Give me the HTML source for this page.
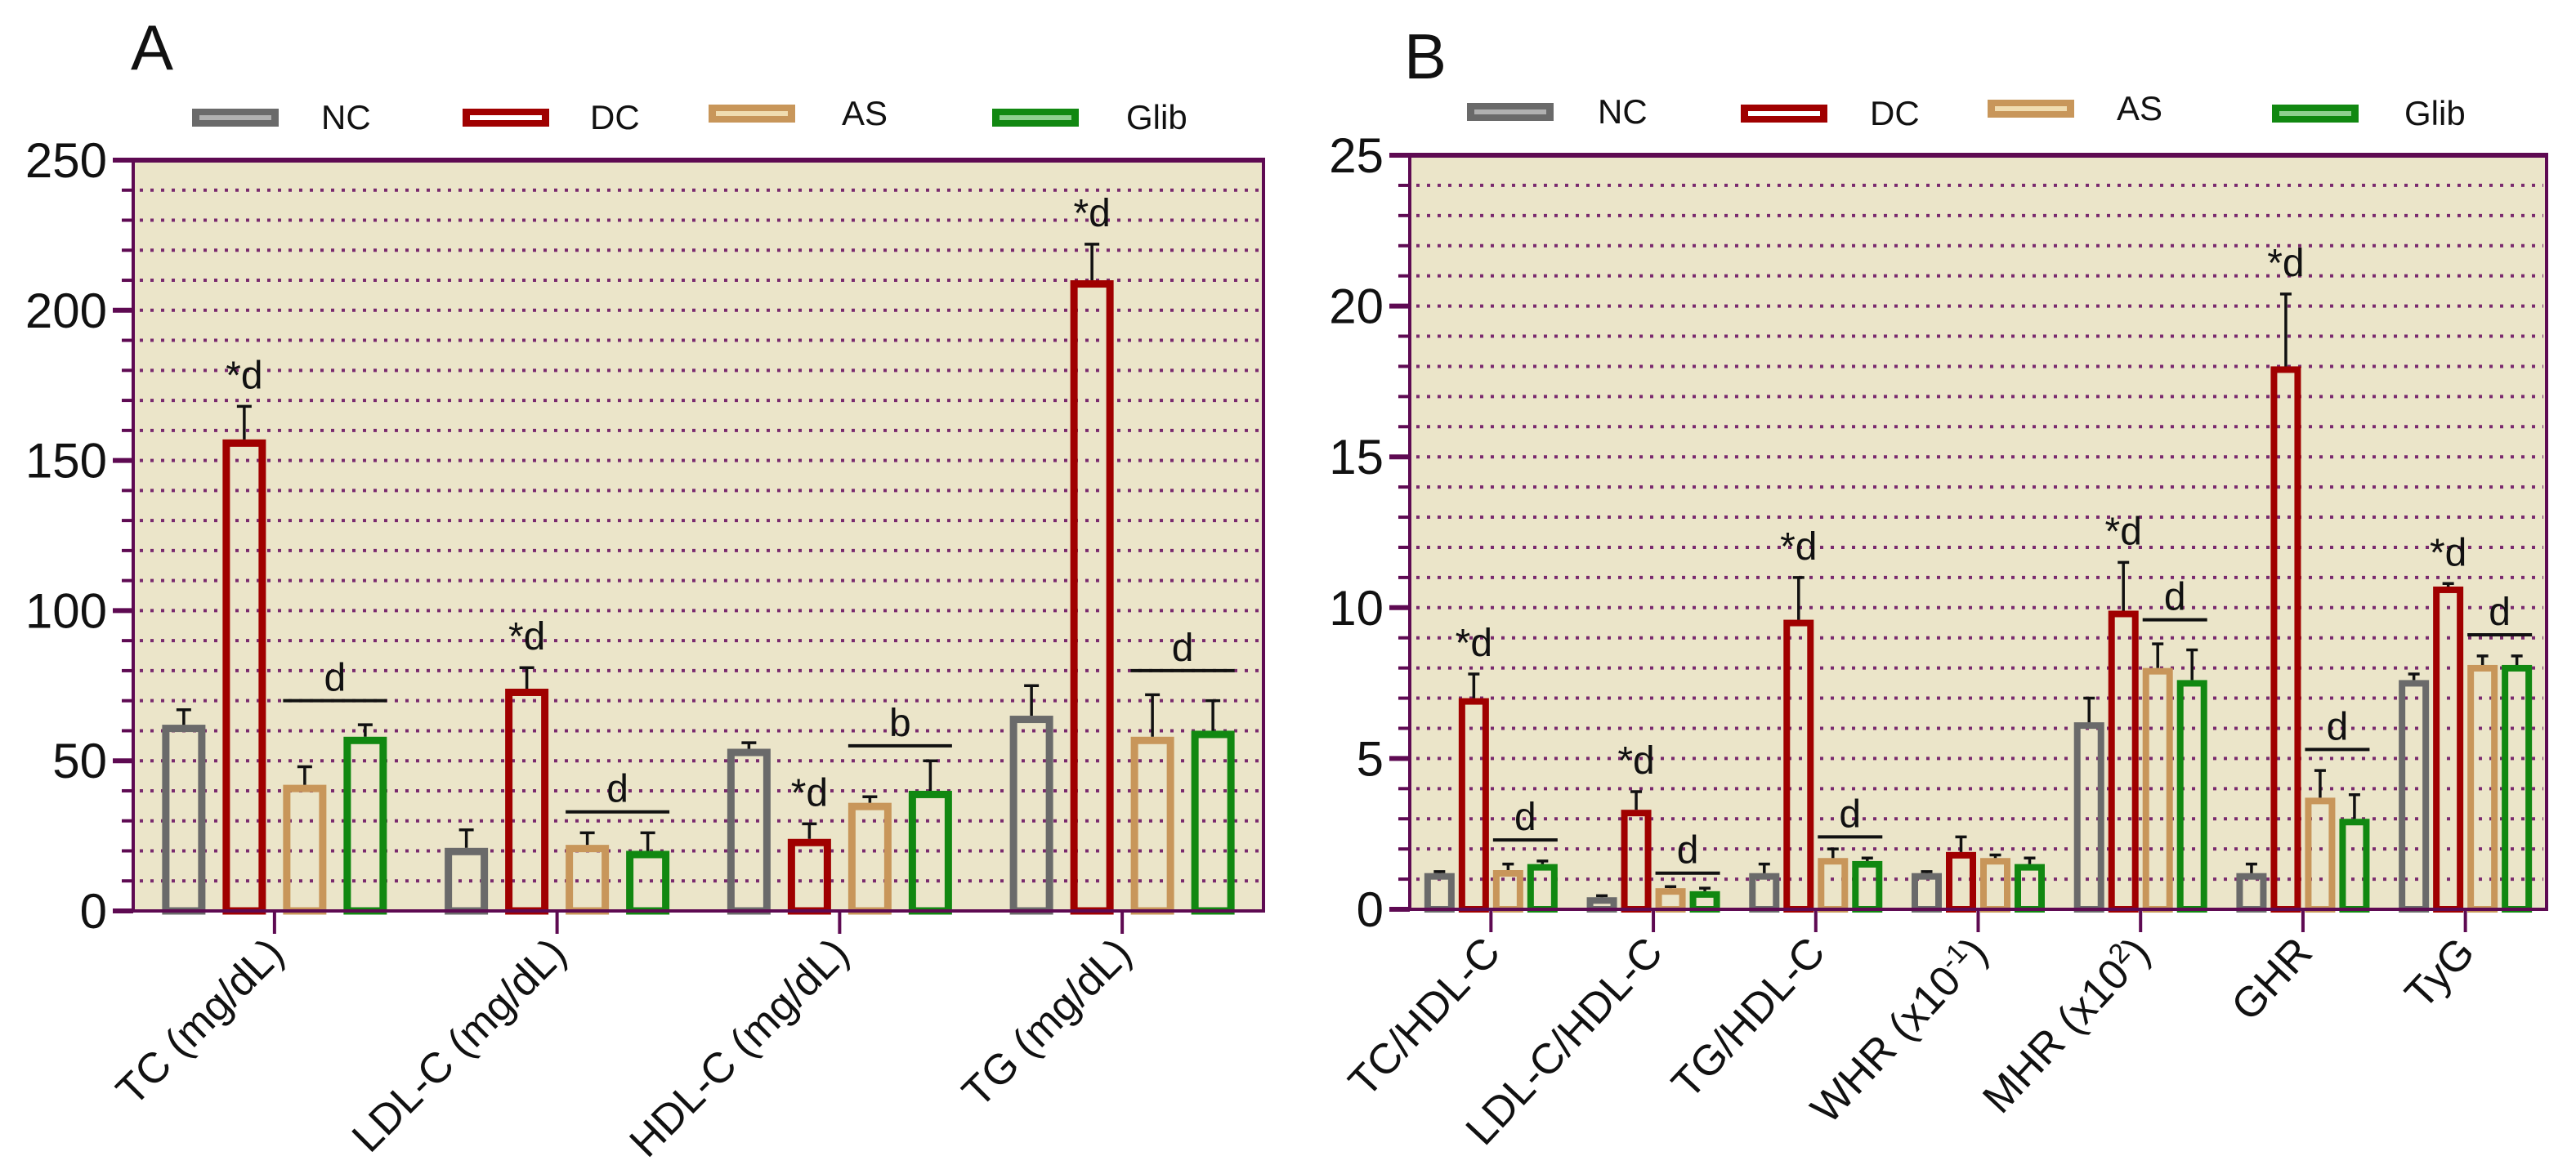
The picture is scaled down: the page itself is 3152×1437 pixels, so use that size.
<!DOCTYPE html>
<html><head><meta charset="utf-8">
<style>
html,body{margin:0;padding:0;background:#fff;}
svg{display:block;font-family:"Liberation Sans",Arial,sans-serif;}
</style></head>
<body>
<svg id="chart" width="3152" height="1437" viewBox="0 0 3152 1437" xmlns="http://www.w3.org/2000/svg">
<rect x="0" y="0" width="3152" height="1437" fill="#fff"/>
<g id="panelA"></g>
<g id="panelB"></g>
</svg>
<script>
// ---------- Panel A data ----------
const catsA = ["TC (mg/dL)", "LDL-C (mg/dL)", "HDL-C (mg/dL)", "TG (mg/dL)"];
const ncA   = [62, 21, 54, 65];
const dcA   = [157, 74, 24, 210];
const asA   = [42, 22, 36, 58];
const glibA = [58, 20, 40, 60];
const ncErrA   = [5, 6, 2, 10];
const dcErrA   = [11, 7, 5, 12];
const asErrA   = [6, 4, 2, 14];
const glibErrA = [4, 6, 10, 10];
const sigDcA   = ["*d", "*d", "*d", "*d"];
const sigGrpA  = ["d", "d", "b", "d"];
const sigLineA = [70, 33, 55, 80];
const ticksA = [0, 50, 100, 150, 200, 250];

// ---------- Panel B data ----------
const catsB = ["TC/HDL-C", "LDL-C/HDL-C", "TG/HDL-C", "WHR (x10^-1)", "MHR (x10^2)", "GHR", "TyG"];
const ncB   = [1.2, 0.4, 1.2, 1.2, 6.2, 1.2, 7.6];
const dcB   = [7.0, 3.3, 9.6, 1.9, 9.9, 18.0, 10.7];
const asB   = [1.3, 0.7, 1.7, 1.7, 8.0, 3.7, 8.1];
const glibB = [1.5, 0.6, 1.6, 1.5, 7.6, 3.0, 8.1];
const ncErrB   = [0.05, 0.05, 0.3, 0.05, 0.8, 0.3, 0.2];
const dcErrB   = [0.8, 0.6, 1.4, 0.5, 1.6, 2.4, 0.1];
const asErrB   = [0.2, 0.05, 0.3, 0.1, 0.8, 0.9, 0.3];
const glibErrB = [0.1, 0.1, 0.1, 0.2, 1.0, 0.8, 0.3];
const sigDcB   = ["*d", "*d", "*d", "", "*d", "*d", "*d"];
const sigGrpB  = ["d", "d", "d", "", "d", "d", "d"];
const sigLineB = [2.3, 1.2, 2.4, null, 9.6, 5.3, 9.1];
const ticksB = [0, 5, 10, 15, 20, 25];

const seriesNames = ["NC", "DC", "AS", "Glib"];
const colors = ["#6a6a6a", "#a00000", "#c8965a", "#118811"];
const lightColors = ["#b0b0b0", "#ffffff", "#f0dcb0", "#8fcf8f"];
const NS = "http://www.w3.org/2000/svg";
const AXC = "#5e0a52";

function mk(parent, tag, attrs) {
  const el = document.createElementNS(NS, tag);
  for (const k in attrs) el.setAttribute(k, attrs[k]);
  parent.appendChild(el);
  return el;
}

function drawPanel(g, cfg) {
  const {left, right, top, bottom, max, minorStep, cats, series, errs, sigDc, sigGrp, sigLine, ticks, barW, pitch, stroke, letter, letterPos, legend, labelRot, capW} = cfg;
  const y = v => bottom - v / max * (bottom - top);
  const catW = (right - left) / cats.length;
  const cx = i => left + catW * (i + 0.5);

  const bg = mk(g, "rect", {x: left, y: top, width: right - left, height: bottom - top, fill: "#ebe5c9"});
  
  

  for (let v = minorStep; v < max; v += minorStep) {
    const gl = mk(g, "line", {x1: left + 8, x2: right - 4, y1: y(v), y2: y(v), stroke: "#7a2a6e", "stroke-width": 4, "stroke-dasharray": "4 9"});
    
    
    const mt = mk(g, "line", {x1: left - 14, x2: left, y1: y(v), y2: y(v), stroke: AXC, "stroke-width": 4});
    
    
  }
  ticks.forEach(t => {
    const tk = mk(g, "line", {x1: left - 25, x2: left, y1: y(t), y2: y(t), stroke: AXC, "stroke-width": 6});
    
    
    const tl = mk(g, "text", {x: left - 32, y: y(t) + 21, "text-anchor": "end", "font-size": 60, fill: "#111"});
    tl.textContent = String(t);
    
    
  });

  const offs = [-1.5, -0.5, 0.5, 1.5];
  cats.forEach((c, i) => {
    series.forEach((s, k) => {
      const v = s[i];
      const bx = cx(i) + offs[k] * pitch;
      const r = mk(g, "rect", {x: bx - barW / 2 + stroke / 2, y: y(v) + stroke / 2, width: barW - stroke, height: Math.max(0, bottom - y(v) - stroke / 2), fill: "none", stroke: colors[k], "stroke-width": stroke});
      
      
      const e = errs[k][i];
      const el = mk(g, "path", {d: `M${bx},${y(v)} V${y(v + e)} M${bx - capW / 2},${y(v + e)} H${bx + capW / 2}`, stroke: "#111", "stroke-width": 3.5, fill: "none"});
      
      
    });
    if (sigDc[i]) {
      const dx = cx(i) + offs[1] * pitch;
      const st = mk(g, "text", {x: dx, y: y(series[1][i] + errs[1][i]) - 22, "text-anchor": "middle", "font-size": 48, fill: "#111"});
      st.textContent = sigDc[i];
      
      
    }
    if (sigLine[i] != null) {
      const x1 = cx(i) + offs[2] * pitch - barW / 2, x2 = cx(i) + offs[3] * pitch + barW / 2;
      const ln = mk(g, "line", {x1, x2, y1: y(sigLine[i]), y2: y(sigLine[i]), stroke: "#111", "stroke-width": 4});
      
      
      const lt = mk(g, "text", {x: (x1 + x2) / 2, y: y(sigLine[i]) - 12, "text-anchor": "middle", "font-size": 48, fill: "#111"});
      lt.textContent = sigGrp[i];
      
      
    }
    const xt = mk(g, "line", {x1: cx(i), x2: cx(i), y1: bottom, y2: bottom + 28, stroke: AXC, "stroke-width": 4});
    
    
    const px = cx(i) + 14, py = bottom + 55;
    const tx = mk(g, "text", {x: px, y: py, "text-anchor": "end", "font-size": 52, fill: "#111", transform: `rotate(${labelRot} ${px} ${py})`});
    const m = c.match(/^(.*)\^(-?\d+)(\))$/);
    if (m) {
      tx.appendChild(document.createTextNode(m[1]));
      const sup = mk(tx, "tspan", {"baseline-shift": "super", "font-size": 34});
      sup.textContent = m[2];
      const rest = mk(tx, "tspan", {"baseline-shift": "0"});
      rest.textContent = m[3];
    } else {
      tx.textContent = c;
    }
    
    
  });

  const fr = mk(g, "path", {d: `M${left},${top} V${bottom} H${right} V${top}`, stroke: AXC, "stroke-width": 4, fill: "none"});
  
  
  const tp = mk(g, "line", {x1: left - 25, x2: right + 2, y1: top, y2: top, stroke: AXC, "stroke-width": 6});
  
  

  const lt = mk(g, "text", {x: letterPos[0], y: letterPos[1], "font-size": 78, fill: "#111"});
  lt.textContent = letter;
  
  

  legend.forEach((L, k) => {
    const sw = mk(g, "rect", {x: L[0], y: L[1], width: 106, height: 22, fill: colors[k]});
    
    
    const sl = mk(g, "rect", {x: L[0] + 9, y: L[1] + 8, width: 88, height: 6, fill: lightColors[k]});
    
    
    const lb = mk(g, "text", {x: L[2], y: L[1] + 25, "font-size": 42, fill: "#111"});
    lb.textContent = seriesNames[k];
    
    
  });
}

drawPanel(document.getElementById("panelA"), {
  left: 163, right: 1546, top: 196, bottom: 1115, max: 250, minorStep: 10,
  cats: catsA, series: [ncA, dcA, asA, glibA], errs: [ncErrA, dcErrA, asErrA, glibErrA],
  sigDc: sigDcA, sigGrp: sigGrpA, sigLine: sigLineA, ticks: ticksA,
  barW: 53, pitch: 74, stroke: 9, capW: 18, letter: "A", letterPos: [160, 85],
  legend: [[235, 133, 393], [566, 133, 722], [867, 128, 1030], [1214, 133, 1378]], labelRot: -45
});
drawPanel(document.getElementById("panelB"), {
  left: 1725, right: 3116, top: 190, bottom: 1113, max: 25, minorStep: 1,
  cats: catsB, series: [ncB, dcB, asB, glibB], errs: [ncErrB, dcErrB, asErrB, glibErrB],
  sigDc: sigDcB, sigGrp: sigGrpB, sigLine: sigLineB, ticks: ticksB,
  barW: 37, pitch: 42, stroke: 8, capW: 14, letter: "B", letterPos: [1718, 96],
  legend: [[1795, 126, 1955], [2130, 128, 2288], [2432, 122, 2590], [2780, 128, 2942]], labelRot: -47
});
</script>
</body></html>
